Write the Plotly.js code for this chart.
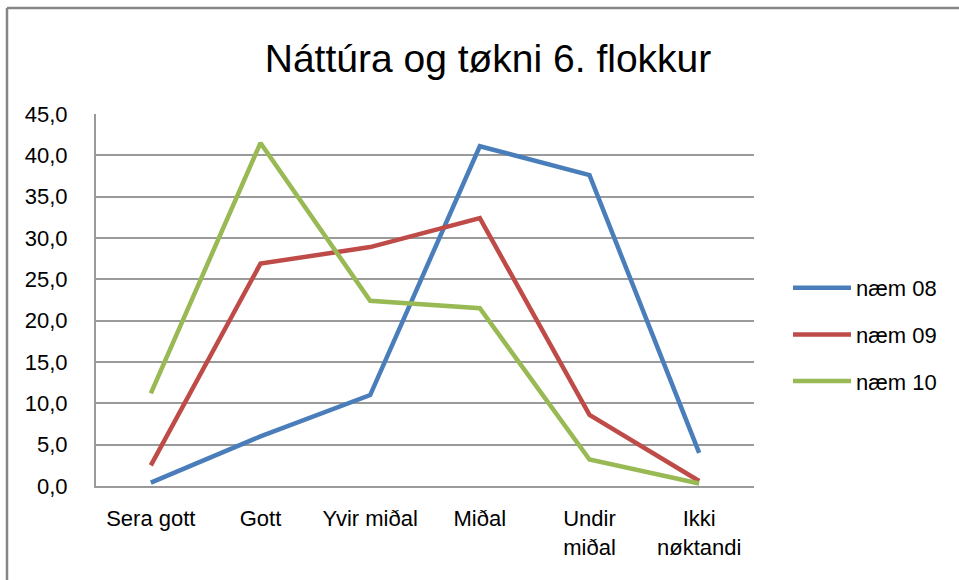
<!DOCTYPE html>
<html>
<head>
<meta charset="utf-8">
<script src="https://cdn.plot.ly/plotly-3.0.1.min.js"></script>
<style>
html,body{margin:0;padding:0;background:#fff;}
#chart{width:959px;height:580px;}
</style>
</head>
<body>
<div id="chart"></div>
<script>
const categories = ["Sera gott", "Gott", "Yvir miðal", "Miðal", "Undir<br>miðal", "Ikki<br>nøktandi"];
const seriesNames = ["næm 08", "næm 09", "næm 10"];
const naem08 = [0.4, 6.0, 11.0, 41.1, 37.6, 4.0];
const naem09 = [2.5, 26.9, 28.9, 32.4, 8.6, 0.6];
const naem10 = [11.2, 41.5, 22.4, 21.5, 3.2, 0.3];
const yTicks = [0, 5, 10, 15, 20, 25, 30, 35, 40, 45];

const colors = ["#4A7EBB", "#BE4B48", "#98B954"];
const allSeries = [naem08, naem09, naem10];
const font = "Liberation Sans, Arial, sans-serif";

const traces = allSeries.map((vals, i) => ({
  x: categories,
  y: vals,
  type: "scatter",
  mode: "lines",
  name: seriesNames[i],
  legendgroup: "g" + i,
  line: {color: colors[i], width: 4.5},
  hoverinfo: "x+y+name"
}));

const L = 96, R = 754, T = 114, B = 486;
const pw = R - L, ph = B - T;
const px = v => (v - L) / pw;
const py = v => (B - v) / ph;

const layout = {
  width: 959, height: 580,
  margin: {l: L, r: 959 - R, t: T, b: 580 - B},
  paper_bgcolor: "#fff", plot_bgcolor: "#fff",
  separators: ",.",
  font: {family: font, size: 22, color: "#000"},
  title: {text: "Náttúra og tøkni 6. flokkur", font: {family: font, size: 39, color: "#000"},
          x: 488 / 959, xanchor: "center", xref: "container", y: 1 - 58 / 580, yanchor: "middle", yref: "container"},
  xaxis: {
    type: "category", range: [-0.5, categories.length - 0.5], showgrid: false, showline: true,
    linecolor: "#9a9a9a", linewidth: 2,
    ticks: "", tickfont: {family: font, size: 22}, ticklabelstandoff: 12, fixedrange: true
  },
  yaxis: {
    range: [0, 45], tickvals: yTicks, tickformat: ".1f", showgrid: true, gridcolor: "#9a9a9a", gridwidth: 2,
    showline: true, linecolor: "#9a9a9a", linewidth: 2, zeroline: false, ticks: "",
    tickfont: {family: font, size: 22}, ticklabelstandoff: 22, fixedrange: true
  },
  showlegend: true,
  legend: {
    x: px(788), y: py(267), xanchor: "left", yanchor: "top",
    font: {family: font, size: 22}, traceorder: "grouped", tracegroupgap: 15,
    itemwidth: 58, bgcolor: "rgba(0,0,0,0)"
  },
  shapes: [
    {type: "line", xref: "paper", yref: "paper", x0: px(7), x1: px(7), y0: py(8), y1: py(600),
     line: {color: "#868686", width: 2.5}},
    {type: "line", xref: "paper", yref: "paper", x0: px(7), x1: px(965), y0: py(8), y1: py(8),
     line: {color: "#868686", width: 2.5}}
  ]
};

Plotly.newPlot("chart", traces, layout, {displayModeBar: false, staticPlot: true});
</script>
</body>
</html>
